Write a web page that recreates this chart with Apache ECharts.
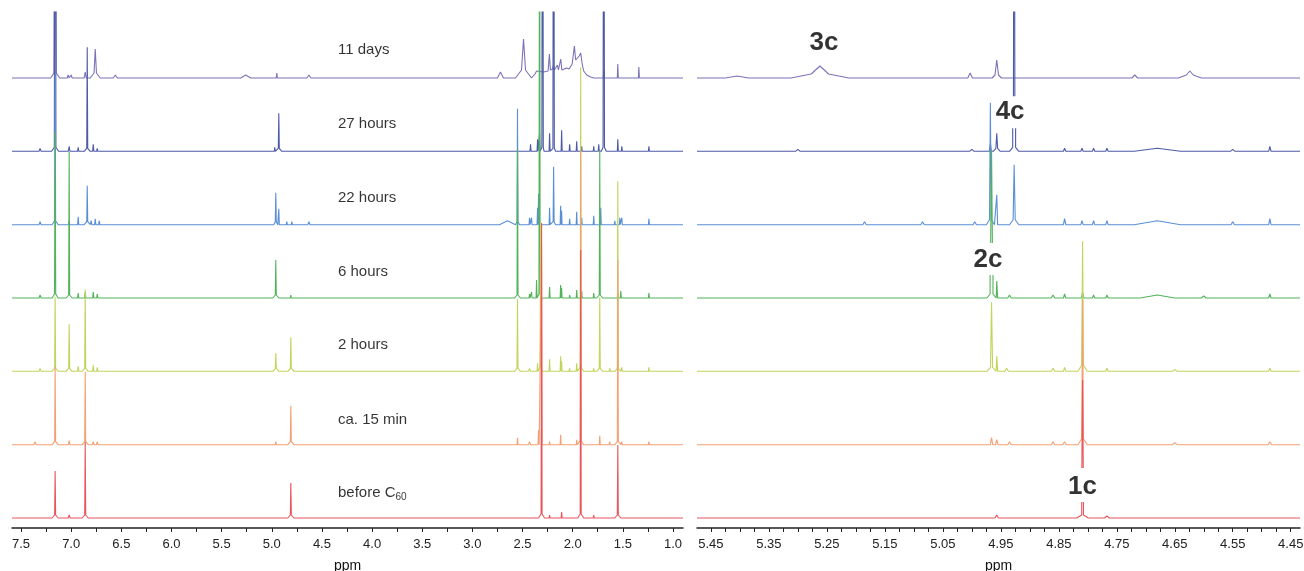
<!DOCTYPE html>
<html><head><meta charset="utf-8">
<script src="https://cdn.jsdelivr.net/npm/echarts@6/dist/echarts.min.js"></script>
<style>html,body{margin:0;padding:0;background:#fff}#c{width:1304px;height:571px}</style>
</head><body><div id="c"></div>
<script>
// ---------------- DATA ----------------
const traceNames = ['11 days', '27 hours', '22 hours', '6 hours', '2 hours', 'ca. 15 min', 'before C60'];
const traceColors = ['#7b73b9', '#4d5aa8', '#5a8fd4', '#52b35a', '#bfd55c', '#f4a072', '#e8555c'];

// Peaks: [ppm, height, halfWidth, footHeight, footHalfWidth, openTopHalfGap]
// or [centerPpm, 'pts', [[ppm, height], ...]] for an explicitly read stretch of spectrum
// left panel (7.6 - 0.9 ppm)
const left11d = [[7.31,2,0.01],[7.16,520,0.012,5,0.045],[7.03,3,0.01],[7.0,3,0.01],[6.86,6,0.01],[6.76,29,0.012,5,0.05],
  [6.56,3,0.02],[5.26,3,0.05],[4.95,5,0.006],[4.63,3,0.02],[2.72,6,0.03],[2.49,39,0.02,8,0.08],
  [2.1, 'pts', [[2.41,0],[2.375,4],[2.36,7],[2.35,5],[2.29,6],[2.245,7],[2.232,24],[2.222,8],[2.20,9],[2.192,13],
    [2.182,8],[2.165,8],[2.152,13],[2.142,8],[2.13,8],[2.119,19],[2.108,8],[2.06,10],[2.035,9],[2.026,10],[2.005,14],
    [1.983,32],[1.97,18],[1.955,17],[1.935,22],[1.920,25],[1.905,14],[1.89,7],[1.86,3],[1.82,1],[1.79,0]]],
  [1.69,8,0.005],[1.55,14,0.005],[1.34,11,0.005]];
const left27h = [[7.31,3,0.01],[7.16,520,0.008,4,0.035],[7.02,5,0.008],[6.93,4,0.006],[6.84,104,0.005,3,0.03],
  [6.78,7,0.006],[6.74,3,0.006],[4.97,4,0.005],[4.93,38,0.005,3,0.03],[4.85,2,0.01],[2.42,7,0.005],[2.35,12,0.005],
  [2.33,18,0.005],[2.30,520,0.007,4,0.015],[2.23,18,0.005],[2.19,520,0.007,3,0.02],[2.11,21,0.005],[2.03,7,0.005],
  [1.96,10,0.005],[1.91,5,0.005],[1.79,5,0.005],[1.74,7,0.005],[1.69,520,0.007,4,0.025],[1.55,12,0.005],
  [1.51,5,0.005],[1.24,5,0.005]];
const left22h = [[7.31,3,0.01],[7.16,150,0.005,4,0.03],[7.02,4,0.006],[6.93,8,0.006],[6.84,39,0.005,3,0.03],
  [6.80,4,0.006],[6.76,6,0.006],[6.72,4,0.006],[4.96,32,0.005,3,0.02],[4.93,16,0.005],[4.85,3,0.005],[4.80,3,0.005],
  [4.63,3,0.01],[2.65,4,0.08],[2.55,116,0.005,3,0.02],[2.43,7,0.005],[2.41,7,0.005],[2.35,17,0.005],[2.34,31,0.004],
  [2.23,17,0.005],[2.19,58,0.005,3,0.02],[2.12,19,0.005],[2.11,14,0.004],[2.03,6,0.005],[1.96,13,0.005],
  [1.91,7,0.005],[1.79,9,0.005],[1.72,17,0.005],[1.58,4,0.005],[1.53,7,0.005],[1.51,7,0.005],[1.24,6,0.005]];
const left6h = [[7.31,3,0.01],[7.16,166,0.006,4,0.03],[7.02,146,0.005,3,0.03],[6.93,5,0.006],[6.86,6,0.006],
  [6.78,6,0.006],[6.74,4,0.006],[4.96,38,0.005,3,0.03],[4.81,3,0.005],[2.55,148,0.005,3,0.03],[2.43,4,0.005],
  [2.41,6,0.005],[2.36,18,0.005],[2.33,520,0.006,4,0.02],[2.23,11,0.005],[2.12,13,0.005],[2.11,10,0.004],
  [2.03,3,0.005],[1.96,8,0.005],[1.91,7,0.005],[1.79,5,0.005],[1.73,148,0.005,3,0.03],[1.55,5,0.005],
  [1.52,7,0.005],[1.24,5,0.005]];
const left2h = [[7.31,3,0.01],[7.16,74,0.005,3,0.03],[7.02,47,0.005,3,0.03],[6.93,5,0.006],[6.86,82,0.005,3,0.03],
  [6.78,6,0.006],[6.74,4,0.006],[4.96,18,0.005,3,0.03],[4.81,34,0.005,3,0.03],[2.55,72,0.005,3,0.03],[2.43,3,0.01],
  [2.35,8,0.005],[2.32,149,0.005,4,0.02],[2.23,12,0.005],[2.12,15,0.005],[2.11,10,0.004],[2.03,3,0.005],
  [1.96,8,0.005],[1.92,304,0.005,4,0.03],[1.79,3,0.005],[1.73,74,0.005,3,0.03],[1.63,3,0.005],
  [1.55,190,0.005,3,0.03],[1.51,4,0.005],[1.24,4,0.005]];
const left15m = [[7.36,3,0.01],[7.16,78,0.005,3,0.03],[7.02,4,0.008],[6.86,73,0.005,3,0.03],[6.78,3,0.008],
  [6.74,3,0.008],[4.96,3,0.005],[4.81,39,0.005,3,0.03],[2.55,7,0.005],[2.43,3,0.01],[2.34,15,0.006],
  [2.31,200,0.005],[2.23,3,0.005],[2.12,10,0.005],[1.96,5,0.005],[1.92,295,0.005,4,0.03],[1.73,9,0.005],
  [1.63,3,0.005],[1.55,185,0.005,3,0.03],[1.51,3,0.005],[1.24,3,0.005]];
const leftBefore = [[7.31,2,0.01],[7.16,47,0.005,3,0.03],[7.02,3,0.01],[6.86,76,0.005,3,0.03],[6.80,2,0.01],
  [4.81,35,0.005,3,0.03],[2.31,295,0.005,4,0.03],[2.23,3,0.005],[2.11,6,0.005],[1.92,268,0.005,4,0.03],
  [1.79,3,0.005],[1.55,73,0.005,3,0.03]];

// right panel (5.47 - 4.43 ppm)
const right11d = [[5.405,2,0.02],[5.262,12,0.015,4,0.05],[5.003,5,0.004],[4.957,18,0.003,3,0.008],
  [4.719,3,0.005],[4.624,7,0.006,3,0.02]];
const right27h = [[5.30,2,0.004],[5.00,2,0.004],[4.968,8,0.0015],[4.957,18,0.0015,3,0.006],
  [4.927,23,0.0025,4,0.008,0.0025],[4.84,3,0.002],[4.81,3,0.002],[4.79,3,0.002],[4.767,3,0.002],
  [4.68,3,0.04],[4.55,2,0.004],[4.486,5,0.002]];
const right22h = [[5.185,3,0.003],[5.085,3,0.003],[4.995,3,0.003],[4.968,122,0.0015,5,0.007],[4.957,30,0.0015],
  [4.927,60,0.0018,5,0.008],[4.84,6,0.002],[4.81,4,0.002],[4.79,4,0.002],[4.767,4,0.002],[4.68,4,0.04],
  [4.55,3,0.003],[4.486,6,0.002]];
const right6h = [[4.966,23,0.0025,4,0.008,0.0025],[4.957,17,0.0015],[4.935,3,0.003],[4.86,3,0.003],[4.84,4,0.002],
  [4.809,6,0.002],[4.79,3,0.002],[4.767,3,0.002],[4.68,3,0.03],[4.60,2,0.004],[4.486,4,0.002]];
const right2h = [[4.966,69,0.0018,4,0.008],[4.957,15,0.0015],[4.94,3,0.003],[4.86,3,0.003],[4.84,4,0.002],
  [4.809,130,0.0015,6,0.008],[4.767,3,0.002],[4.65,2,0.004],[4.486,3,0.002]];
const right15m = [[4.966,7,0.002],[4.957,5,0.002],[4.935,3,0.003],[4.86,3,0.003],[4.84,3,0.003],
  [4.809,145,0.0015,6,0.008],[4.65,2,0.004],[4.486,3,0.003]];
const rightBefore = [[4.957,3,0.003],[4.809,16,0.0015,3,0.01,0.0015],[4.767,2,0.004]];

// upper fragments of broken peaks: [traceIndex, ppm, baseHeight, topHeight, halfWidth]
const brokenTops = [[1,4.927,55,520,0.0012],[3,4.966,55,148,0.0015],[6,4.809,50,138,0.0012]];

// compound labels: [text, ppm, heightAboveRedBaseline]
const compoundLabels = [['3c',5.255,475],['4c',4.934,406],['2c',4.972,258],['1c',4.809,31]];
// trace-name label heights above each baseline
const nameHeights = [28, 27, 27, 26, 26, 25, 25];

const leftTicks = [7.5,7.25,7.0,6.75,6.5,6.25,6.0,5.75,5.5,5.25,5.0,4.75,4.5,4.25,4.0,3.75,3.5,3.25,3.0,2.75,2.5,2.25,2.0,1.75,1.5,1.25,1.0];
const leftTickLabels = [7.5,7.0,6.5,6.0,5.5,5.0,4.5,4.0,3.5,3.0,2.5,2.0,1.5,1.0];
const rightTicks = [5.45,5.425,5.4,5.375,5.35,5.325,5.3,5.275,5.25,5.225,5.2,5.175,5.15,5.125,5.1,5.075,5.05,5.025,5.0,4.975,4.95,4.925,4.9,4.875,4.85,4.825,4.8,4.775,4.75,4.725,4.7,4.675,4.65,4.625,4.6,4.575,4.55,4.525,4.5,4.475,4.45];
const rightTickLabels = [5.45,5.35,5.25,5.15,5.05,4.95,4.85,4.75,4.65,4.55,4.45];

// ---------------- LAYOUT ----------------
const leftPeaks = [left11d, left27h, left22h, left6h, left2h, left15m, leftBefore];
const rightPeaks = [right11d, right27h, right22h, right6h, right2h, right15m, rightBefore];
const offsets = [440, 366.7, 293.3, 220, 146.7, 73.3, 0];
const LMIN = 0.9, LMAX = 7.59, RMIN = 4.434, RMAX = 5.474;

function build(peaks, lo, hi, off) {
  const ps = peaks.slice().sort((a, b) => b[0] - a[0]);
  const pts = [[hi, off]];
  ps.forEach(p => {
    if (p[1] === 'pts') { p[2].forEach(q => pts.push([q[0], off + q[1]])); return; }
    const [c, h, w, fh, fw, gap] = p;
    if (fw) pts.push([c + fw, off]);
    pts.push([c + w, off + (fh || 0)]);
    if (gap) { pts.push([c + gap, off + h]); pts.push([c, '-']); pts.push([c - gap, off + h]); }
    else pts.push([c, off + h]);
    pts.push([c - w, off + (fh || 0)]);
    if (fw) pts.push([c - fw, off]);
  });
  pts.push([lo, off]);
  return pts;
}

const font = "'Liberation Sans', Arial, Helvetica, sans-serif";
const LW = 1.1;
const series = [];
for (let i = 0; i < 7; i++) {
  series.push({ type: 'line', xAxisIndex: 0, yAxisIndex: 0, data: build(leftPeaks[i], LMIN, LMAX, offsets[i]),
    symbol: 'none', lineStyle: { color: traceColors[i], width: LW }, silent: true, z: 2 + i });
  series.push({ type: 'line', xAxisIndex: 1, yAxisIndex: 1, data: build(rightPeaks[i], RMIN, RMAX, offsets[i]),
    symbol: 'none', lineStyle: { color: traceColors[i], width: LW }, silent: true, z: 2 + i });
}
brokenTops.forEach(b => {
  const [ti, c, base, top, w] = b;
  const off = offsets[ti];
  series.push({ type: 'line', xAxisIndex: 1, yAxisIndex: 1, data: [[c + w, off + base], [c, off + top], [c - w, off + base]],
    symbol: 'none', lineStyle: { color: traceColors[ti], width: LW }, silent: true, z: 2 + ti });
});
series.push({ type: 'scatter', xAxisIndex: 1, yAxisIndex: 1, symbolSize: 0, silent: true, z: 20,
  data: compoundLabels.map(l => ({ value: [l[1], l[2]], name: l[0] })),
  label: { show: true, position: 'inside', formatter: p => p.name, fontSize: 26, fontWeight: 'bold', color: '#000', fontFamily: font } });

series.push({ type: 'scatter', xAxisIndex: 0, yAxisIndex: 0, symbolSize: 0, silent: true, z: 20,
  data: traceNames.map((n, i) => ({ value: [4.34, offsets[i] + nameHeights[i]], name: n })),
  label: { show: true, position: 'right', distance: 0,
    formatter: p => p.name === 'before C60' ? '{a|before C}{s|60}' : '{a|' + p.name + '}',
    rich: { a: { fontSize: 15, color: '#000', fontFamily: font, lineHeight: 18 },
            s: { fontSize: 10, color: '#000', fontFamily: font, lineHeight: 18, verticalAlign: 'bottom', padding: [6, 0, 0, 0] } } } });

function xAxisCfg(idx, min, max, ticks, labels, dec) {
  return { type: 'value', gridIndex: idx, min: min, max: max, inverse: true,
    name: 'ppm', nameLocation: 'middle', nameGap: 31,
    nameTextStyle: { fontSize: 14, color: '#111', fontFamily: font },
    axisLine: { show: true, onZero: false, lineStyle: { color: '#222', width: 1.5 } },
    axisTick: { show: true, length: 4, inside: false, customValues: ticks, lineStyle: { color: '#222', width: 1 } },
    axisLabel: { show: true, customValues: labels, formatter: v => Number(v).toFixed(dec), fontSize: 13, color: '#222', margin: 10, fontFamily: font },
    splitLine: { show: false } };
}

const option = {
  animation: false,
  backgroundColor: '#ffffff',
  grid: [
    { left: 12, width: 671, top: 12, bottom: 43, containLabel: false, outerBoundsMode: 'none' },
    { left: 697, width: 603, top: 12, bottom: 43, containLabel: false, outerBoundsMode: 'none' }
  ],
  xAxis: [xAxisCfg(0, LMIN, LMAX, leftTicks, leftTickLabels, 1), xAxisCfg(1, RMIN, RMAX, rightTicks, rightTickLabels, 2)],
  yAxis: [
    { type: 'value', gridIndex: 0, min: -10, max: 506, show: false, splitLine: { show: false } },
    { type: 'value', gridIndex: 1, min: -10, max: 506, show: false, splitLine: { show: false } }
  ],
  series: series
};
const chart = echarts.init(document.getElementById('c'), null, { renderer: 'canvas' });
chart.setOption(option);
</script>
</body></html>
